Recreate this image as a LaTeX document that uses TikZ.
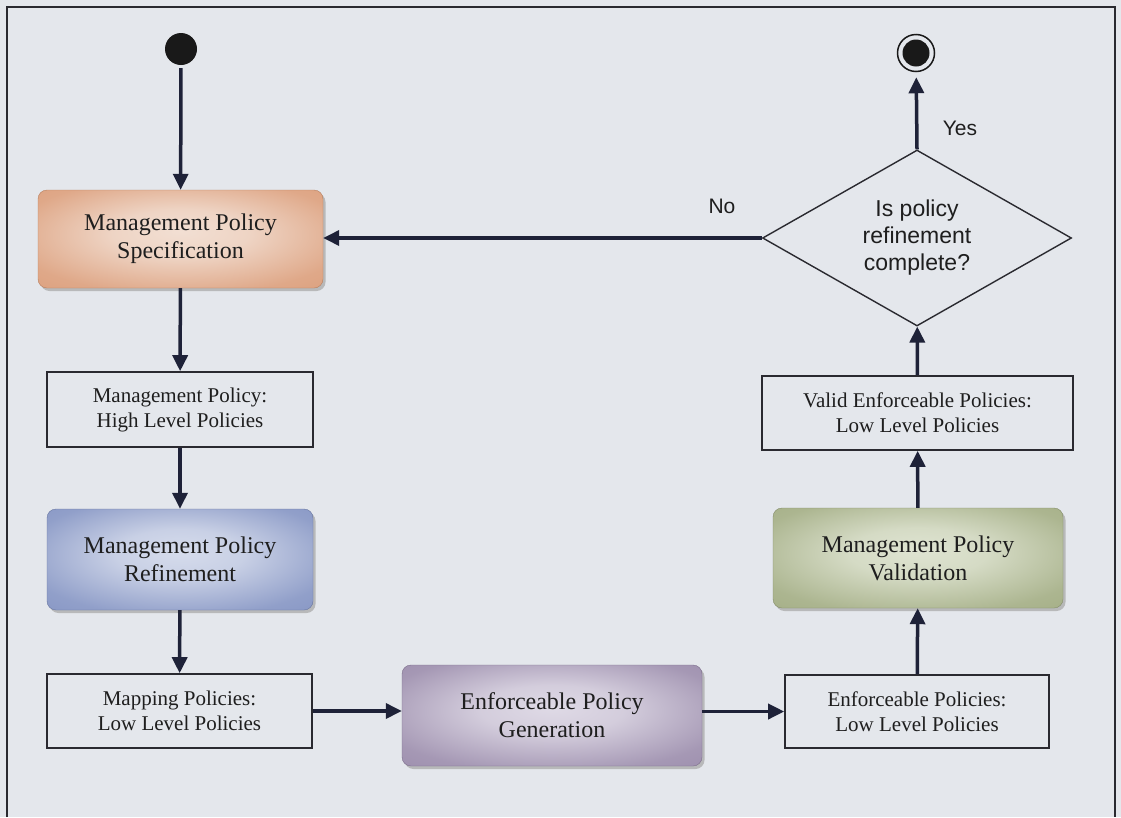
\documentclass[tikz,border=0pt]{standalone}
\usepackage{fontspec}
\setmainfont{Liberation Serif}
\newfontfamily\arialfont{Liberation Sans}
\usetikzlibrary{arrows.meta,shapes.geometric,shadows}

\definecolor{bgpanel}{HTML}{E4E7EC}
\definecolor{framecol}{HTML}{2A2A30}
\definecolor{flowcol}{HTML}{1E2238}
\definecolor{txtcol}{HTML}{1E1E1E}
\definecolor{specout}{HTML}{D99670}
\definecolor{specin}{HTML}{F2DFD3}
\definecolor{refout}{HTML}{7A8BBE}
\definecolor{refin}{HTML}{D6DCEC}
\definecolor{genout}{HTML}{9282A4}
\definecolor{genin}{HTML}{DFDAE6}
\definecolor{valout}{HTML}{9BA67A}
\definecolor{valin}{HTML}{DFE4D2}

% soft radial fills: light core fading into the rim colour
\pgfdeclareradialshading{specshade}{\pgfpoint{0bp}{4bp}}{color(0bp)=(specin); color(12bp)=(specin!85!specout); color(30bp)=(specout!75!specin); color(50bp)=(specout)}
\pgfdeclareradialshading{refshade}{\pgfpoint{0bp}{4bp}}{color(0bp)=(refin); color(12bp)=(refin!85!refout); color(30bp)=(refout!75!refin); color(50bp)=(refout)}
\pgfdeclareradialshading{genshade}{\pgfpoint{0bp}{4bp}}{color(0bp)=(genin); color(12bp)=(genin!85!genout); color(30bp)=(genout!75!genin); color(50bp)=(genout)}
\pgfdeclareradialshading{valshade}{\pgfpoint{0bp}{4bp}}{color(0bp)=(valin); color(12bp)=(valin!85!valout); color(30bp)=(valout!75!valin); color(50bp)=(valout)}

\tikzset{
  activity/.style={rounded corners=9pt, minimum width=#1, inner sep=0pt,
    minimum height=100pt, align=center, text=txtcol,
    font=\fontsize{24}{28}\selectfont,
    drop shadow={shadow xshift=2.5pt, shadow yshift=-3pt, fill=black!35, opacity=0.7}},
  artefact/.style={draw=framecol, line width=1.6pt, fill=bgpanel, inner sep=0pt,
    align=center, text=txtcol, font=\fontsize{21}{25}\selectfont},
  flow/.style={draw=flowcol, line width=3.5pt, -{Triangle[length=16pt,width=15pt]}},
  guard/.style={text=txtcol, font=\arialfont\fontsize{21}{25}\selectfont},
}

\begin{document}
\begin{tikzpicture}[x=1pt,y=-1pt]
  % page and outer frame
  \fill[bgpanel] (0,0) rectangle (1121,817);
  \useasboundingbox (0,0) rectangle (1121,817);
  \draw[framecol, line width=1.6pt] (7,817) -- (7,7) -- (1115,7) -- (1115,817);

  % initial and final states
  \node[circle, fill=black!90, minimum size=32pt, inner sep=0pt] (start) at (181,49) {};
  \node[circle, draw=black!90, line width=1.5pt, minimum size=37pt, inner sep=0pt] (final) at (916,53) {};
  \node[circle, fill=black!90, minimum size=27pt, inner sep=0pt] (finaldot) at (916,53) {};

  % activities
  \node[activity=285pt, minimum height=98pt, shading=specshade,
        draw=specout!85!black, line width=0.4pt] (spec) at (180.5,239)
        {Management Policy\\Specification};
  \node[activity=266pt, minimum height=101pt, shading=refshade,
        draw=refout!85!black, line width=0.4pt] (refine) at (180,559.5)
        {Management Policy\\Refinement};
  \node[activity=300pt, minimum height=101pt, shading=genshade,
        draw=genout!85!black, line width=0.4pt] (gen) at (552,715.5)
        {Enforceable Policy\\Generation};
  \node[activity=290pt, minimum height=100pt, shading=valshade,
        draw=valout!85!black, line width=0.4pt] (valid) at (918,558)
        {Management Policy\\Validation};

  % policy artefacts
  \node[artefact, minimum width=266pt, minimum height=75pt] (high) at (180,409.5)
        {Management Policy:\\High Level Policies};
  \node[artefact, minimum width=265pt, minimum height=74pt] (mapping) at (179.5,711)
        {Mapping Policies:\\Low Level Policies};
  \node[artefact, minimum width=264pt, minimum height=73pt] (enforce) at (917,711.5)
        {Enforceable Policies:\\Low Level Policies};
  \node[artefact, minimum width=311pt, minimum height=74pt] (validpol) at (917.5,413)
        {Valid Enforceable Policies:\\Low Level Policies};

  % decision
  \node[diamond, draw=framecol, line width=1.4pt, fill=bgpanel, inner sep=0pt,
        minimum width=309pt, minimum height=176pt, aspect=1.76, align=center,
        text=txtcol, font=\arialfont\fontsize{23}{27}\selectfont] (done) at (917,238)
        {Is policy\\refinement\\complete?};

  % flows
  \draw[flow, shorten <=3pt] (start) -- (spec);
  \draw[flow] (spec) -- (high);
  \draw[flow] (high) -- (refine);
  \draw[flow] (refine) -- (mapping);
  \draw[flow] (mapping) -- (mapping -| gen.west);
  \draw[flow] (gen.east |- enforce) -- (enforce);
  \draw[flow] (enforce) -- (valid);
  \draw[flow] (valid) -- (validpol);
  \draw[flow] (validpol) -- (done);
  \draw[flow] (done.west) -- (done.west -| spec.east);
  \draw[flow, shorten >=5pt] (done.north) -- (final);

  % guards
  \node[guard] (yes) at (960,128) {Yes};
  \node[guard] (no) at (722,206) {No};
\end{tikzpicture}
\end{document}
